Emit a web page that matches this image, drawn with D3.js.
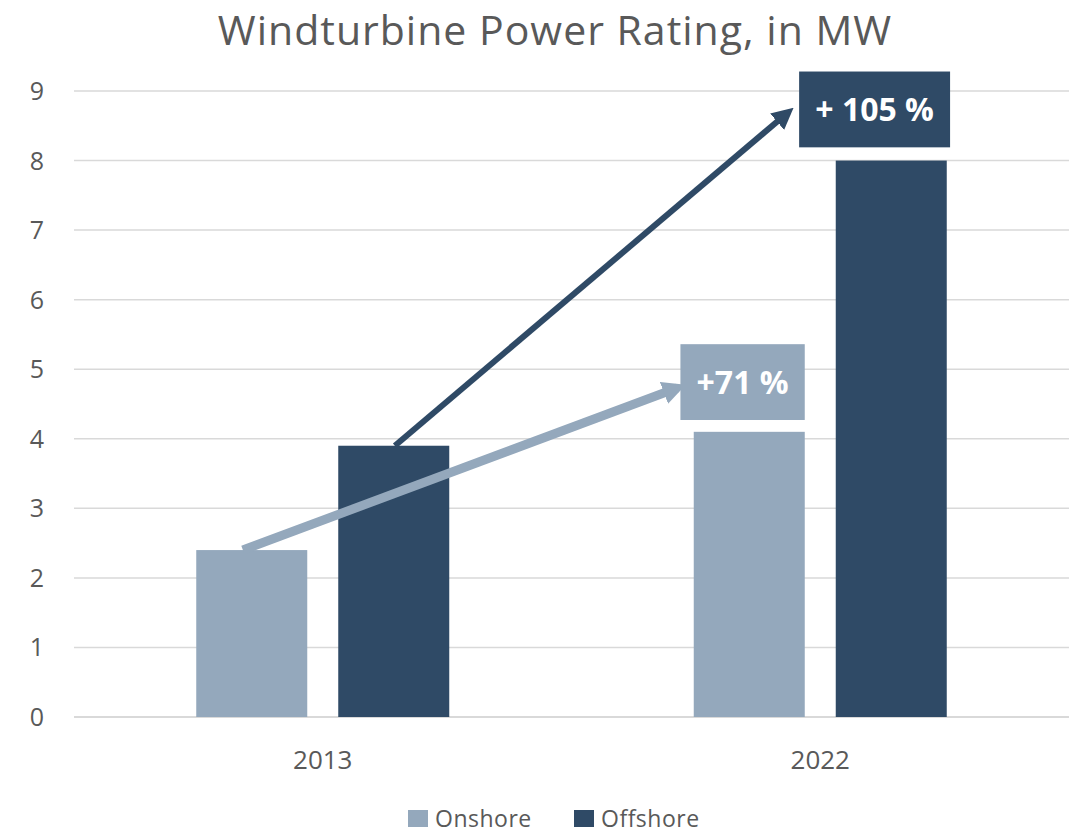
<!DOCTYPE html>
<html>
<head>
<meta charset="utf-8">
<script src="https://cdn.jsdelivr.net/npm/d3@7"></script>
<style>
  body { margin: 0; background: #fff; }
  svg text { font-family: "Open Sans", sans-serif; }
</style>
</head>
<body>
<svg id="chart" width="1081" height="834"></svg>
<script>
'use strict';

const years    = ['2013', '2022'];
const series   = ['Onshore', 'Offshore'];
const onshore  = [2.4, 4.1];
const offshore = [3.9, 8.0];
const yTicks   = [0, 1, 2, 3, 4, 5, 6, 7, 8, 9];
const colors   = { Onshore: '#94A8BC', Offshore: '#2F4A66' };

/* growth labels: box in data units (x as bar widths), arrow from bar top to box */
const labels = [
  { text: '+71 %',   series: 'Onshore',  year: '2022', x0: -0.12, x1: 1.0, top: 5.36, bottom: 4.27,
    from: { year: '2013', series: 'Onshore',  off: 0.42, v: 2.4 }, to: { year: '2022', series: 'Onshore', off: -0.15, v: 4.73 } },
  { text: '+ 105 %', series: 'Offshore', year: '2022', x0: -0.33, x1: 1.03, top: 9.28, bottom: 8.19,
    from: { year: '2013', series: 'Offshore', off: 0.51, v: 3.9 }, to: { year: '2022', series: 'Onshore', off: 0.84, v: 8.68 } }
];

const W = 1081, H = 834;
const m = { top: 91, right: 12, bottom: 117, left: 74 };
const svg = d3.select('#chart');

const x = d3.scaleBand().domain(years).range([m.left, W - m.right]);
const y = d3.scaleLinear().domain([0, 9]).range([H - m.bottom, m.top]);
const barW = 111, gap = 31;
const sx = d3.scaleOrdinal().domain(series).range([0, barW + gap]);
const groupOff = (x.bandwidth() - (2 * barW + gap)) / 2;
const barX = (yr, s) => x(yr) + groupOff + sx(s);

/* title */
svg.append('text').attr('x', 555).attr('y', 45).attr('text-anchor', 'middle')
  .style('font-size', '41px').style('letter-spacing', '1px').style('fill', '#595959')
  .text('Windturbine Power Rating, in MW');

/* grid + y labels */
svg.append('g').selectAll('line').data(yTicks).join('line')
  .attr('x1', m.left).attr('x2', W - m.right)
  .attr('y1', d => y(d)).attr('y2', d => y(d))
  .attr('stroke', '#d9d9d9').attr('stroke-width', d => d === 0 ? 2 : 1.5);

svg.append('g').selectAll('text').data(yTicks).join('text')
  .attr('x', 44).attr('y', d => y(d)).attr('dy', '0.36em').attr('text-anchor', 'end')
  .style('font-size', '25px').style('fill', '#595959').text(d => d);

/* x labels */
svg.append('g').selectAll('text').data(years).join('text')
  .attr('x', d => x(d) + x.bandwidth() / 2).attr('y', 769).attr('text-anchor', 'middle')
  .style('font-size', '26px').style('fill', '#595959').text(d => d);

/* bars */
const rows = years.flatMap((yr, i) => [
  { yr, s: 'Onshore', v: onshore[i] },
  { yr, s: 'Offshore', v: offshore[i] }
]);
svg.append('g').selectAll('rect').data(rows).join('rect')
  .attr('x', d => barX(d.yr, d.s)).attr('width', barW)
  .attr('y', d => y(d.v)).attr('height', d => y(0) - y(d.v))
  .attr('fill', d => colors[d.s]);

/* arrows */
const defs = svg.append('defs');
series.forEach(s => {
  defs.append('marker').attr('id', `arr-${s}`)
    .attr('viewBox', '0 -5 10 10').attr('refX', 6).attr('markerWidth', s === 'Onshore' ? 2.6 : 3.6)
    .attr('markerHeight', s === 'Onshore' ? 2.6 : 3.6).attr('orient', 'auto').attr('markerUnits', 'strokeWidth')
    .append('path').attr('d', 'M0,-5L10,0L0,5Z').attr('fill', colors[s]);
});

const pt = p => [barX(p.year, p.series) + p.off * barW, y(p.v)];
svg.append('g').selectAll('line').data(labels).join('line')
  .each(function (d) {
    const a = pt(d.from), b = pt(d.to);
    d3.select(this).attr('x1', a[0]).attr('y1', a[1]).attr('x2', b[0]).attr('y2', b[1]);
  })
  .attr('stroke', d => colors[d.series])
  .attr('stroke-width', d => d.series === 'Onshore' ? 9 : 6)
  .attr('marker-end', d => `url(#arr-${d.series})`);

/* label boxes */
const lg = svg.append('g').selectAll('g').data(labels).join('g');
lg.append('rect')
  .attr('x', d => barX(d.year, d.series) + d.x0 * barW)
  .attr('width', d => (d.x1 - d.x0) * barW)
  .attr('y', d => y(d.top)).attr('height', d => y(d.bottom) - y(d.top))
  .attr('fill', d => colors[d.series]);
lg.append('text')
  .attr('x', d => barX(d.year, d.series) + (d.x0 + d.x1) / 2 * barW)
  .attr('y', d => (y(d.top) + y(d.bottom)) / 2).attr('dy', '0.36em')
  .attr('text-anchor', 'middle').style('font-size', '32px').style('font-weight', 'bold')
  .style('fill', '#fff').text(d => d.text);

/* legend */
const leg = svg.append('g');
const legItems = [{ s: 'Onshore', x: 408 }, { s: 'Offshore', x: 574 }];
const li = leg.selectAll('g').data(legItems).join('g').attr('transform', d => `translate(${d.x},810)`);
li.append('rect').attr('width', 20).attr('height', 17).attr('fill', d => colors[d.s]);
li.append('text').attr('x', 27).attr('y', 17)
  .style('font-size', '23px').style('letter-spacing', '0.5px').style('fill', '#595959').text(d => d.s);
</script>
</body>
</html>
